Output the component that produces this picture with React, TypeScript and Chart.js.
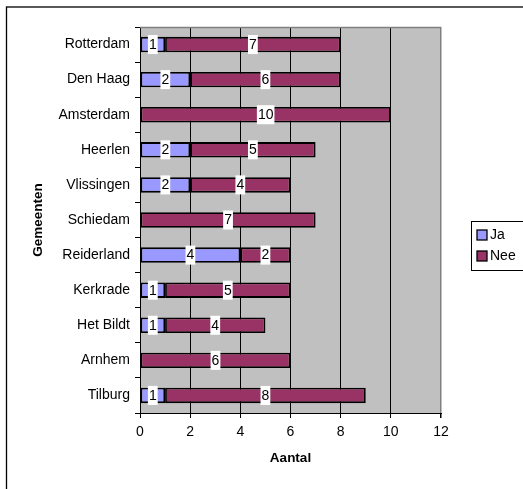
import React, { useEffect, useRef } from "react";
import { Chart, registerables } from "chart.js";

Chart.register(...registerables);

const categories = ["Rotterdam", "Den Haag", "Amsterdam", "Heerlen", "Vlissingen", "Schiedam", "Reiderland", "Kerkrade", "Het Bildt", "Arnhem", "Tilburg"];
const jaValues = [1, 2, 0, 2, 2, 0, 4, 1, 1, 0, 1];
const neeValues = [7, 6, 10, 5, 4, 7, 2, 5, 4, 6, 8];
const seriesNames = ["Ja", "Nee"];
const seriesColors = ["#9999FF", "#993366"];
const xAxisTitle = "Aantal";
const yAxisTitle = "Gemeenten";

const FONT = "'Liberation Sans', Arial, sans-serif";

const W = 523;
const H = 489;

const excelPlugin = {
  id: "excelLook",
  beforeDraw(chart: any) {
    const { ctx, chartArea } = chart;
    ctx.save();
    ctx.fillStyle = "#ffffff";
    ctx.fillRect(0, 0, W, H);
    ctx.strokeStyle = "#000";
    ctx.lineWidth = 1.3;
    ctx.strokeRect(6.5, 7, W + 20, H + 20);
    ctx.fillStyle = "#C0C0C0";
    ctx.fillRect(chartArea.left, chartArea.top, chartArea.right - chartArea.left, chartArea.bottom - chartArea.top);
    ctx.restore();
  },
  beforeDatasetsDraw(chart: any) {
    const { ctx, chartArea } = chart;
    ctx.save();
    ctx.strokeStyle = "#808080";
    ctx.lineWidth = 1.5;
    ctx.beginPath();
    ctx.moveTo(chartArea.left, chartArea.top + 0.5);
    ctx.lineTo(chartArea.right, chartArea.top + 0.5);
    ctx.stroke();
    ctx.restore();
  },
  afterDatasetsDraw(chart: any) {
    const { ctx } = chart;
    ctx.save();
    ctx.font = `14px ${FONT}`;
    ctx.textAlign = "center";
    ctx.textBaseline = "middle";
    chart.data.datasets.forEach((ds: any, di: number) => {
      const meta = chart.getDatasetMeta(di);
      meta.data.forEach((el: any, i: number) => {
        const v = ds.data[i];
        if (!v) return;
        const cx = (el.x + el.base) / 2;
        const cy = el.y;
        const txt = String(v);
        const tw = ctx.measureText(txt).width;
        ctx.fillStyle = "#ffffff";
        ctx.fillRect(cx - tw / 2 - 1, cy - 9.5, tw + 2, 19);
        ctx.fillStyle = "#000";
        ctx.fillText(txt, cx, cy + 0.5);
      });
    });
    ctx.restore();
  },
  afterDraw(chart: any) {
    const { ctx, chartArea } = chart;
    ctx.save();
    ctx.fillStyle = "#000";
    ctx.font = `bold 13.5px ${FONT}`;
    ctx.textAlign = "center";
    ctx.textBaseline = "middle";
    ctx.fillText(xAxisTitle, (chartArea.left + chartArea.right) / 2, 458);
    ctx.save();
    ctx.translate(38, (chartArea.top + chartArea.bottom) / 2);
    ctx.rotate(-Math.PI / 2);
    ctx.fillText(yAxisTitle, 0, 0);
    ctx.restore();

    // legend
    const lx = 471.5;
    const ly = 221.5;
    const lh = 49;
    ctx.strokeStyle = "#000";
    ctx.lineWidth = 1;
    ctx.fillStyle = "#fff";
    ctx.fillRect(lx, ly, 80, lh);
    ctx.strokeRect(lx, ly, 80, lh);
    ctx.font = `14px ${FONT}`;
    ctx.textAlign = "left";
    seriesNames.forEach((name, i) => {
      const cy = 235 + i * 21;
      ctx.fillStyle = seriesColors[i];
      ctx.fillRect(477, cy - 5, 10, 10);
      ctx.strokeStyle = "#000";
      ctx.lineWidth = 1.3;
      ctx.strokeRect(477, cy - 5, 10, 10);
      ctx.fillStyle = "#000";
      ctx.fillText(name, 490, cy + 0.5);
    });
    ctx.restore();
  },
};

export default function App() {
  const ref = useRef<HTMLCanvasElement>(null);
  useEffect(() => {
    if (!ref.current) return;
    const chart = new Chart(ref.current, {
      type: "bar",
      data: {
        labels: categories,
        datasets: [jaValues, neeValues].map((vals, i) => ({
          label: seriesNames[i],
          data: vals.map((v) => (v === 0 ? null : v)),
          backgroundColor: seriesColors[i],
          borderColor: "#000",
          borderWidth: 1.8,
          borderSkipped: false,
          barPercentage: 0.44,
          categoryPercentage: 1,
        })),
      },
      options: {
        indexAxis: "y",
        animation: false,
        responsive: false,
        devicePixelRatio: 1,
        layout: { padding: { top: 27, right: 82, left: 0, bottom: 0 } },
        plugins: { legend: { display: false }, tooltip: { enabled: false } },
        scales: {
          x: {
            stacked: true,
            min: 0,
            max: 12,
            ticks: { stepSize: 2, color: "#000", font: { family: FONT, size: 14 }, padding: 6 },
            grid: {
              color: (c: any) => (c.tick && c.tick.value === 12 ? "#808080" : "#000"),
              lineWidth: (c: any) => (c.tick && c.tick.value === 12 ? 1.5 : 1),
              drawTicks: true,
              tickLength: 5,
              tickColor: "#000",
            },
            border: { color: "#000", width: 1 },
            afterFit: (s: any) => {
              s.height = 76;
            },
          },
          y: {
            stacked: true,
            ticks: { color: "#000", font: { family: FONT, size: 14 }, padding: 5 },
            grid: { drawOnChartArea: false, drawTicks: true, tickLength: 5, offset: true, tickColor: "#000" },
            border: { color: "#000", width: 1 },
            afterFit: (s: any) => {
              s.width = 140;
            },
          },
        },
      },
      plugins: [excelPlugin],
    });
    return () => chart.destroy();
  }, []);
  return (
    <div style={{ position: "fixed", left: 0, top: 0, width: W, height: H, background: "#fff" }}>
      <canvas ref={ref} width={W} height={H} style={{ width: W, height: H, display: "block" }} />
    </div>
  );
}
